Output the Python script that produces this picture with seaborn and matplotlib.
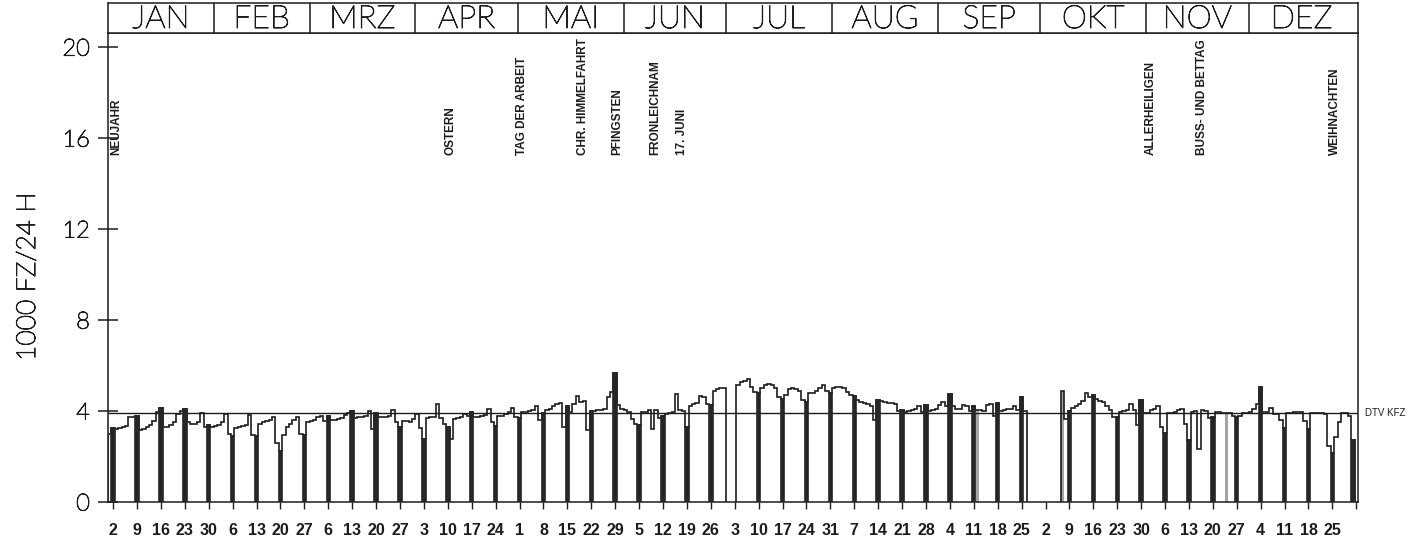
import numpy as np
import pandas as pd
import seaborn as sns
import matplotlib.pyplot as plt
import matplotlib.transforms as mtransforms
import matplotlib.patheffects as pe

nan = np.nan

# daily traffic 1977, 1000 vehicles / 24 h
jan = [3.0, 3.27,
       3.2, 3.25, 3.3, 3.35, 3.72, 3.75, 3.78,
       3.15, 3.2, 3.3, 3.4, 3.55, 3.95, 4.15,
       3.3, 3.3, 3.4, 3.5, 3.85, 4.0, 4.1,
       3.5, 3.45, 3.45, 3.5, 3.9, 3.3, 3.38,
       3.3]
feb = [3.35, 3.4, 3.5, 3.85, 3.0, 2.9,
       3.25, 3.3, 3.35, 3.4, 3.82, 2.95, 2.9,
       3.45, 3.5, 3.55, 3.6, 3.72, 2.6, 2.25,
       2.95, 3.3, 3.42, 3.6, 3.75, 3.0, 2.95,
       3.5]
mrz = [3.55, 3.6, 3.72, 3.78, 3.55, 3.78,
       3.6, 3.62, 3.65, 3.7, 3.82, 3.9, 4.0,
       3.7, 3.72, 3.75, 3.8, 4.0, 3.2, 3.92,
       3.72, 3.72, 3.75, 3.78, 4.05, 3.5, 3.3,
       3.55, 3.55, 3.5, 3.65]
apr = [3.85, 3.25, 2.75,
       3.68, 3.72, 3.75, 4.3, 3.7, 3.45, 3.3,
       2.75, 3.65, 3.7, 3.72, 3.85, 3.8, 3.95,
       3.75, 3.75, 3.78, 3.82, 4.1, 3.5, 3.35,
       3.8, 3.8, 3.85, 3.95, 4.15, 3.75]
mai = [3.7,
       3.97, 3.97, 4.0, 4.05, 4.2, 3.6, 3.92,
       4.05, 4.1, 4.2, 4.3, 4.35, 3.3, 4.2,
       3.97, 4.3, 4.65, 4.4, 4.45, 3.15, 4.0,
       4.0, 4.05, 4.05, 4.1, 4.6, 4.85, 5.65,
       4.25, 4.1]
jun = [4.05, 3.95, 3.65, 3.45, 3.38,
       3.95, 3.95, 4.05, 3.2, 4.05, 3.7, 3.8,
       3.85, 3.9, 3.95, 4.75, 4.05, 4.0, 3.3,
       4.2, 4.3, 4.35, 4.65, 4.6, 4.3, 4.25,
       4.9, 4.95, 5.0, 5.0]
jul = [nan, nan, nan,
       5.15, 5.28, 5.33, 5.4, 5.05, 4.85, 4.78,
       5.0, 5.15, 5.2, 5.15, 5.0, 4.6, 4.52,
       4.7, 4.95, 5.0, 4.95, 4.9, 4.5, 4.4,
       4.78, 4.8, 4.9, 5.0, 5.15, 4.9, 4.78]
aug = [5.0, 5.05, 5.05, 5.0, 4.85, 4.7, 4.68,
       4.5, 4.4, 4.35, 4.3, 4.2, 3.6, 4.48,
       4.45, 4.4, 4.35, 4.35, 4.3, 4.0, 4.04,
       3.95, 4.0, 4.05, 4.1, 4.2, 3.95, 4.27,
       4.0, 4.05, 4.1]
sep = [4.25, 4.4, 4.2, 4.75,
       4.2, 4.1, 4.1, 4.25, 4.2, 4.0, 4.2,
       4.05, 4.05, 4.0, 4.25, 4.3, 3.8, 4.35,
       4.0, 4.05, 4.1, 4.1, 4.2, 4.05, 4.6,
       4.0, nan, nan, nan, nan]
okt = [nan, nan, nan, nan, nan, nan, 4.9, 3.65, 4.0,
       4.15, 4.2, 4.3, 4.45, 4.8, 4.6, 4.7,
       4.55, 4.45, 4.4, 4.2, 4.05, 3.75, 3.72,
       3.95, 4.0, 4.05, 4.3, 4.05, 3.4, 4.5,
       3.9]
nov = [3.9, 4.05, 4.1, 4.2, 3.3, 3.05,
       3.9, 3.92, 3.95, 4.05, 4.1, 3.45, 2.72,
       3.95, 4.0, 2.35, 4.05, 4.0, 3.7, 3.75,
       3.95, 3.95, 3.9, 3.9, 3.92, 3.8, 3.72,
       3.8, 3.9, 3.9]
dez = [3.95, 4.1, 4.3, 5.05,
       3.95, 3.95, 4.15, 3.85, 3.85, 3.6, 3.25,
       3.92, 3.92, 3.95, 3.97, 3.95, 3.55, 3.2,
       3.9, 3.92, 3.92, 3.9, 3.85, 2.45, 2.15,
       2.85, 3.5, 3.9, 3.92, 3.8, 2.72]

monate = ['JAN', 'FEB', 'MRZ', 'APR', 'MAI', 'JUN',
          'JUL', 'AUG', 'SEP', 'OKT', 'NOV', 'DEZ']
feiertage = ['NEUJAHR', 'OSTERN', 'TAG DER ARBEIT', 'CHR. HIMMELFAHRT', 'PFINGSTEN',
             'FRONLEICHNAM', '17. JUNI', 'ALLERHEILIGEN', 'BUSS- UND BETTAG', 'WEIHNACHTEN']
feiertag_daten = ['1977-01-01', '1977-04-10', '1977-05-01', '1977-05-19', '1977-05-29',
                  '1977-06-09', '1977-06-17', '1977-11-01', '1977-11-16', '1977-12-25']
grau_tage = ['1977-09-12', '1977-10-07', '1977-11-24']
extra_dunkel = ['1977-12-31']
dtv = 3.92

ink = '#1c1c1c'
narrow = ['Liberation Sans', 'DejaVu Sans']
pen = [pe.withStroke(linewidth=0.7, foreground=ink)]   # thicken the light font a bit

sns.set_style('white')
plt.rcParams['font.family'] = ['Lato', 'DejaVu Sans']

dates = pd.date_range('1977-01-01', '1977-12-31', freq='D')
df = pd.DataFrame({'date': dates, 'day': np.arange(len(dates)),
                   'kfz': jan + feb + mrz + apr + mai + jun + jul + aug + sep + okt + nov + dez})
df['dark'] = (df.date.dt.dayofweek == 6) | df.date.isin(pd.to_datetime(extra_dunkel))
df['grau'] = df.date.isin(pd.to_datetime(grau_tage))

W, H = 1428, 544
fig = plt.figure(figsize=(W / 100, H / 100), dpi=100)
ax = fig.add_axes([108 / W, 42 / H, 1250 / W, 469 / H])
head = fig.add_axes([108 / W, 511 / H, 1250 / W, 30 / H], sharex=ax)

# step outline of the daily values, one piece per run without gaps
valid = df.kfz.notna().to_numpy()
run = np.cumsum(np.r_[True, valid[1:] != valid[:-1]])
for _, seg in df[valid].groupby(run[valid]):
    d = seg.day.to_numpy()
    ax.stairs(seg.kfz.to_numpy(), np.r_[d - 0.5, d[-1] + 0.5], baseline=0,
              color=ink, lw=1.2, zorder=3)

grau = df[df.grau & valid]
ax.bar(grau.day, grau.kfz, width=1.0, color='#a5a5a5', linewidth=0, zorder=2.5)

dark = df[df.dark & valid]
unit = np.diff(dark.day.to_numpy()).min()
sns.barplot(data=dark, x='day', y='kfz', native_scale=True, width=1.0 / unit,
            color='#262626', saturation=1, errorbar=None, linewidth=1.2,
            edgecolor='#262626', ax=ax, zorder=4)

ax.axhline(dtv, color=ink, lw=1.0, zorder=3.5)
trans = mtransforms.blended_transform_factory(ax.transAxes, ax.transData)
ax.text(1.0056, dtv, 'DTV KFZ', transform=trans, ha='left', va='center',
        fontsize=7, family=narrow, color=ink)

for name, dt in zip(feiertage, feiertag_daten):
    d = (pd.Timestamp(dt) - dates[0]).days
    ax.text(max(d + 0.7, 1.9), 15.25, name, rotation=90, ha='center', va='bottom',
            fontsize=8.5, fontweight='bold', family=narrow, color=ink)

ax.set_xlim(-0.5, 365.5)
ax.set_ylim(0, 20.62)
ax.set_yticks([0, 4, 8, 12, 16, 20])
ax.set_yticklabels(['0', '4', '8', '12', '16', '20'], fontsize=17,
                   fontweight='light', color=ink, path_effects=pen)
sundays = np.arange(1, 366, 7)
xlabels = [str((dates[0] + pd.Timedelta(days=int(s))).day) for s in sundays]
xlabels[-1] = ''
ax.set_xticks(sundays)
ax.set_xticklabels(xlabels, fontsize=11.5, fontweight='bold', family=narrow, color=ink)
ax.tick_params(axis='y', direction='inout', length=14, width=1.1, pad=6, color=ink, left=True)
ax.tick_params(axis='x', direction='out', length=5, width=1.0, pad=10, color=ink, bottom=True)
ax.set_xlabel('')
ax.set_ylabel('')
ax.grid(False)
for sp in ax.spines.values():
    sp.set_visible(True)
    sp.set_color(ink)
    sp.set_linewidth(1.1)

# month header
starts = df.day[df.date.dt.is_month_start].to_numpy()
ends = np.r_[starts[1:], 365]
head.set_ylim(0, 1)
for s in starts[1:]:
    head.axvline(s - 0.5, color=ink, lw=1.1)
for name, s, e in zip(monate, starts, ends):
    head.text((s + e) / 2 - 0.5, 0.45, name, ha='center', va='center',
              fontsize=23, fontweight='light', color=ink, path_effects=pen)
head.tick_params(left=False, bottom=False, labelleft=False, labelbottom=False)
head.grid(False)
for sp in head.spines.values():
    sp.set_visible(True)
    sp.set_color(ink)
    sp.set_linewidth(1.1)

fig.text(28 / W, 1 - 277 / H, '1000 FZ/24 H', rotation=90, ha='center', va='center',
         fontsize=19, fontweight='light', color=ink, path_effects=pen)

fig.savefig('out.png', dpi=100)
